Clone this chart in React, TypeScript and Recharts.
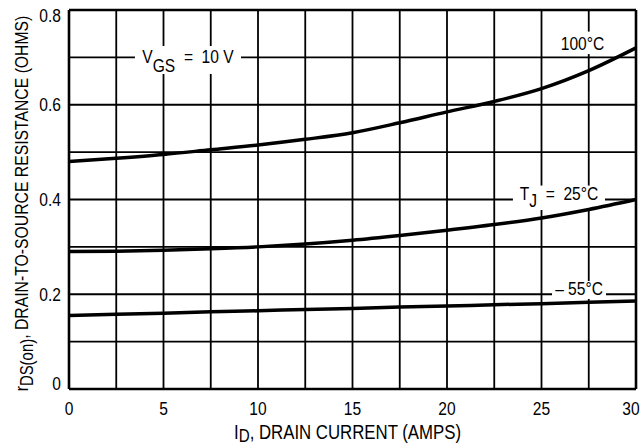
import React from 'react';
import { LineChart, Line, XAxis, YAxis, ReferenceLine, ReferenceArea, CartesianGrid } from 'recharts';

const currents = [0, 2.5, 5, 7.5, 10, 12.5, 15, 17.5, 20, 22.5, 25, 27.5, 30];
const r100 = [0.48, 0.487, 0.495, 0.505, 0.515, 0.527, 0.541, 0.562, 0.585, 0.607, 0.634, 0.672, 0.72];
const r25 = [0.29, 0.291, 0.293, 0.296, 0.3, 0.306, 0.314, 0.324, 0.335, 0.347, 0.361, 0.379, 0.4];
const rm55 = [0.155, 0.158, 0.16, 0.163, 0.165, 0.168, 0.17, 0.173, 0.175, 0.178, 0.18, 0.183, 0.186];

const xLabeled = [0, 5, 10, 15, 20, 25, 30];
const yLabeled = [0, 0.2, 0.4, 0.6, 0.8];
const gridX = [0, 2.5, 5, 7.5, 10, 12.5, 15, 17.5, 20, 22.5, 25, 27.5, 30];
const gridY = [0, 0.1, 0.2, 0.3, 0.4, 0.5, 0.6, 0.7, 0.8];

const NB = '\u00A0';
const annotations = [
  { x1: 3.49, x2: 9.1, y1: 0.665, y2: 0.724, main: 'V', sub: 'GS', rest: `${NB}${NB}=${NB}${NB}10${NB}V`, base: 11, subDy: 9 },
  { x1: 25.87, x2: 28.47, y1: 0.707, y2: 0.754, main: '100°C', sub: '', rest: '', base: 4, subDy: 0 },
  { x1: 23.49, x2: 28.36, y1: 0.378, y2: 0.429, main: 'T', sub: 'J', rest: `${NB}${NB}=${NB}${NB}25°C`, base: 10, subDy: 7 },
  { x1: 25.56, x2: 28.41, y1: 0.19, y2: 0.228, main: `–${NB}55°C`, sub: '', rest: '', base: 4, subDy: 0 },
];

const data = currents.map((i, k) => ({ i, r100: r100[k], r25: r25[k], rm55: rm55[k] }));

const FONT = "'Liberation Sans', Arial, Helvetica, sans-serif";
const FS = 19;
const SX = 0.82;

const near = (arr: number[], v: number) => arr.some((a) => Math.abs(a - v) < 1e-6);

const AnnLabel = (ann: any) => (props: any) => {
  const vb = props.viewBox || {};
  const cx = vb.x + vb.width / 2;
  const by = vb.y + vb.height - ann.base;
  return (
    <g>
      <rect x={vb.x} y={vb.y} width={vb.width} height={vb.height} fill="#fff" />
      <text transform={`translate(${cx} ${by}) scale(${SX} 1)`} x={0} y={0} textAnchor="middle" fontFamily={FONT} fontSize={FS} fill="#000">
        <tspan>{ann.main}</tspan>
        {ann.sub ? <tspan dy={ann.subDy}>{ann.sub}</tspan> : null}
        {ann.rest ? <tspan dy={ann.sub ? -ann.subDy : 0}>{ann.rest}</tspan> : null}
      </text>
    </g>
  );
};

const YTick = (props: any) => {
  const { x, y, payload } = props;
  if (!near(yLabeled, payload.value)) return <g />;
  let dy = 0;
  if (Math.abs(payload.value - 0.8) < 1e-6) dy = 5;
  if (payload.value === 0) dy = -6;
  return (
    <text transform={`translate(${x} ${y + dy}) scale(${SX} 1)`} x={0} y={0} dy="0.355em" textAnchor="end" fontFamily={FONT} fontSize={FS} fill="#000">
      {payload.value === 0 ? '0' : payload.value.toFixed(1)}
    </text>
  );
};

const XTick = (props: any) => {
  const { x, y, payload } = props;
  if (!near(xLabeled, payload.value)) return <g />;
  const dx = payload.value === 30 ? -5 : 0;
  return (
    <text transform={`translate(${x + dx} ${y + 3}) scale(${SX} 1)`} x={0} y={0} dy="0.71em" textAnchor="middle" fontFamily={FONT} fontSize={FS} fill="#000">
      {payload.value}
    </text>
  );
};

const XLabel = (props: any) => {
  const vb = props.viewBox || {};
  const cx = vb.x + vb.width / 2 - 5;
  return (
    <text transform={`translate(${cx} ${vb.y + 50}) scale(0.8 1)`} x={0} y={0} textAnchor="middle" fontFamily={FONT} fontSize={21} fill="#000">
      <tspan>I</tspan>
      <tspan dy={3} fontSize={19}>D</tspan>
      <tspan dy={-3}>, DRAIN CURRENT (AMPS)</tspan>
    </text>
  );
};

const YLabel = (props: any) => {
  const vb = props.viewBox || {};
  const cx = 21;
  const cy = vb.y + vb.height / 2 + 4;
  return (
    <text transform={`translate(${cx} ${cy}) rotate(-90) scale(0.83 1)`} x={0} y={0} dy="0.355em" textAnchor="middle" fontFamily={FONT} fontSize={FS} fill="#000">
      <tspan>r</tspan>
      <tspan dy={5} fontSize={FS - 1}>DS(on)</tspan>
      <tspan dy={-5}>, DRAIN-TO-SOURCE RESISTANCE (OHMS)</tspan>
    </text>
  );
};

export default function App() {
  return (
    <div style={{ position: 'absolute', left: 0, top: 0, width: 642, height: 448, background: '#fff' }}>
      <LineChart width={642} height={448} data={data} margin={{ top: 10, right: 6, bottom: 0, left: 0 }}>
        <CartesianGrid stroke="#000" strokeWidth={1.8} strokeOpacity={1} />
        <XAxis
          type="number"
          dataKey="i"
          domain={[0, 30]}
          ticks={gridX}
          interval={0}
          axisLine={false}
          tickLine={false}
          height={59}
          tickMargin={4}
          tick={<XTick />}
          label={{ content: <XLabel /> }}
        />
        <YAxis
          type="number"
          domain={[0, 0.8]}
          ticks={gridY}
          interval={0}
          axisLine={false}
          tickLine={false}
          width={69}
          tick={<YTick />}
          label={{ content: <YLabel /> }}
        />
        <ReferenceLine x={0} stroke="#000" strokeWidth={2.6} />
        <ReferenceLine x={30} stroke="#000" strokeWidth={2.6} />
        <ReferenceLine y={0} stroke="#000" strokeWidth={2.6} />
        <ReferenceLine y={0.8} stroke="#000" strokeWidth={2.6} />
        <Line type="monotone" dataKey="r100" stroke="#000" strokeWidth={3.5} dot={false} isAnimationActive={false} />
        <Line type="monotone" dataKey="r25" stroke="#000" strokeWidth={3.5} dot={false} isAnimationActive={false} />
        <Line type="monotone" dataKey="rm55" stroke="#000" strokeWidth={3.5} dot={false} isAnimationActive={false} />
        {annotations.map((a, k) => (
          <ReferenceArea
            key={'an' + k}
            x1={a.x1}
            x2={a.x2}
            y1={a.y1}
            y2={a.y2}
            fill="#fff"
            fillOpacity={1}
            stroke="none"
            label={{ content: AnnLabel(a) as any }}
          />
        ))}
      </LineChart>
    </div>
  );
}
